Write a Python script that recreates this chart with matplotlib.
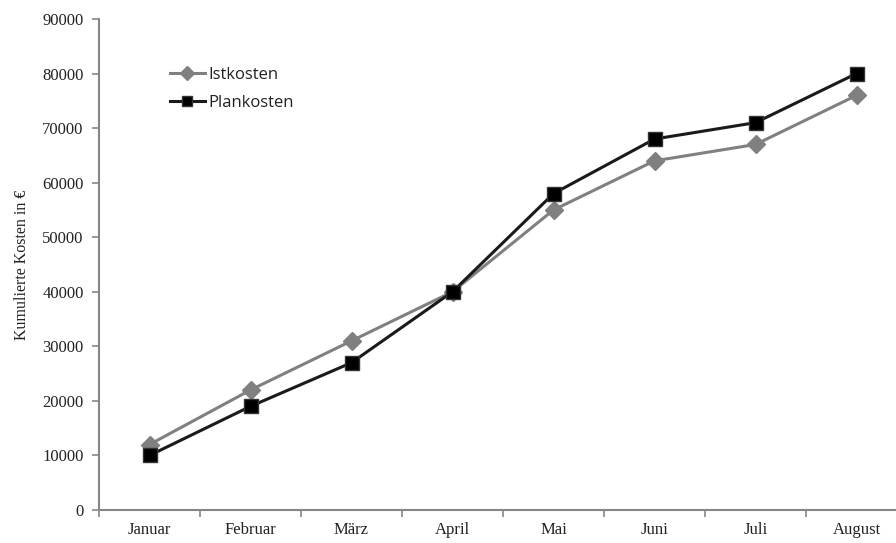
import matplotlib.pyplot as plt

# data
months = ['Januar', 'Februar', 'März', 'April', 'Mai', 'Juni', 'Juli', 'August']
istkosten = [12000, 22000, 31000, 40000, 55000, 64000, 67000, 76000]
plankosten = [10000, 19000, 27000, 40000, 58000, 68000, 71000, 80000]
yticks = [0, 10000, 20000, 30000, 40000, 50000, 60000, 70000, 80000, 90000]

axisColor = '#868686'

fig = plt.figure(figsize=(8.96, 5.43), dpi=100)
ax = fig.add_axes([99 / 896, 33 / 543, 797 / 896, 491 / 543])

x = list(range(len(months)))
ax.plot(x, istkosten, color='#808080', linewidth=2.2, marker='D', markersize=9,
        markerfacecolor='#808080', markeredgecolor='#808080', label='Istkosten', clip_on=False, zorder=3)
ax.plot(x, plankosten, color='#1a1a1a', linewidth=2.2, marker='s', markersize=10,
        markerfacecolor='black', markeredgecolor='#333333', label='Plankosten', clip_on=False, zorder=4)

ax.set_ylim(0, 90000)
ax.set_xlim(-0.5, 7.5 - 11 / 101)
ax.set_yticks(yticks)
ax.set_yticklabels([str(v) for v in yticks], fontfamily='Liberation Serif', fontsize=12, color='#222222')

# category boundaries as ticks, labels centered between
ax.set_xticks([i - 0.5 for i in range(len(months))])
ax.set_xticklabels([])
ax.set_xticks(x, minor=True)
ax.set_xticklabels(months, minor=True, fontfamily='Liberation Serif', fontsize=12, color='#222222')
ax.tick_params(axis='x', which='minor', length=0, pad=9)
ax.tick_params(axis='x', which='major', length=5, color=axisColor, width=1.2)
ax.tick_params(axis='y', length=5, color=axisColor, width=1.2, pad=6)

for side in ['top', 'right']:
    ax.spines[side].set_visible(False)
for side in ['left', 'bottom']:
    ax.spines[side].set_color(axisColor)
    ax.spines[side].set_linewidth(1.5)

ax.set_ylabel('Kumulierte Kosten in €', fontfamily='Liberation Serif', fontsize=11.5, color='#222222', labelpad=9)

leg = ax.legend(loc='upper left', bbox_to_anchor=(0.089, 0.902), frameon=False,
                prop={'family': 'Open Sans', 'size': 12}, handlelength=2.1, handletextpad=0.2,
                labelspacing=0.72, borderaxespad=0, borderpad=0, markerscale=0.75)
for t in leg.get_texts():
    t.set_color('#222222')

fig.savefig('out.png', dpi=100)
